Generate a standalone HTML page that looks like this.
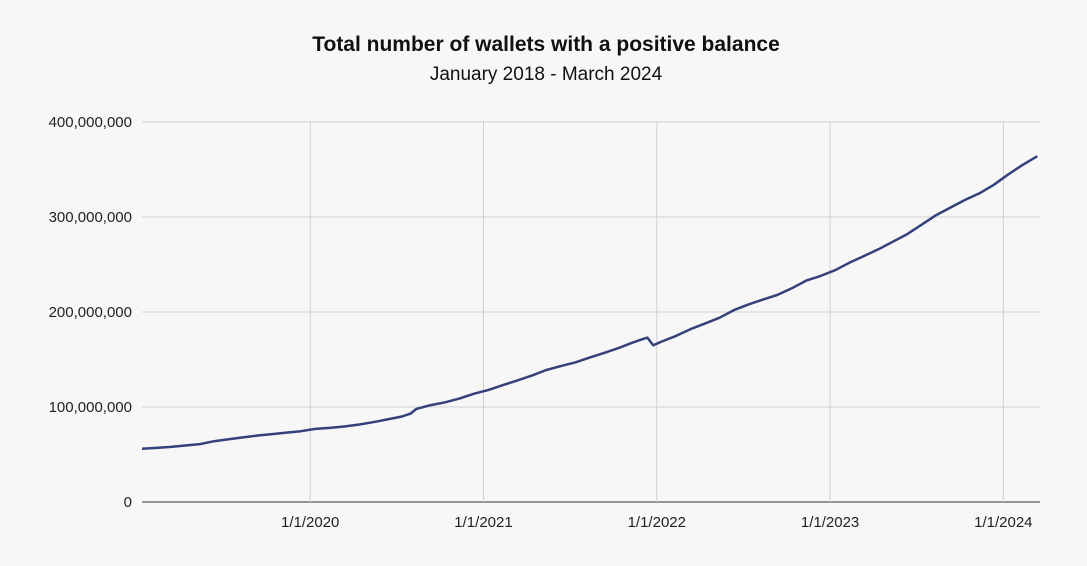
<!DOCTYPE html>
<html><head><meta charset="utf-8"><style>
html,body{margin:0;padding:0;background:#f7f7f7;}
body{width:1087px;height:561px;overflow:hidden;font-family:"Liberation Sans",Arial,sans-serif;}
</style></head><body>
<svg id="chart" width="1087" height="561" xmlns="http://www.w3.org/2000/svg">
<rect x="0" y="0" width="1087" height="561" fill="#f7f7f7"/>
<text x="546" y="51" text-anchor="middle" font-size="21" font-weight="bold" fill="#111">Total number of wallets with a positive balance</text>
<text x="546" y="80" text-anchor="middle" font-size="19" fill="#111">January 2018 - March 2024</text>
<g id="grid"></g><g id="axes"></g><g id="series"></g>
</svg>
<script>
const months=[0,1,2,3,4,5,6,7,8,9,10,11,12,13,14,15,16,17,18,18.6,19,20,21,22,23,24,25,26,27,28,29,30,31,32,33,34,35,35.4,36,37,38,39,40,41,42,43,44,45,46,47,48,49,50,51,52,53,54,55,56,57,58,59,60,61,62];
const values=[56,57,58,59.5,61,64,66,68,70,71.5,73,74.5,77,78,79.5,81.5,84,87,90,93,98,102,105,109,114,118,123,128,133,139,143,147,152,157,162,168,173,165,169,175,182,188,194,202,208,213,218,225,233,238,244,252,259,266,274,282,292,302,310,318,325,334,345,355,364];
const yTicks=[0,100,200,300,400];
const yTickLabels=["0","100,000,000","200,000,000","300,000,000","400,000,000"];
const xTickMonths=[11.65,23.65,35.65,47.65,59.65];
const xTickLabels=["1/1/2020","1/1/2021","1/1/2022","1/1/2023","1/1/2024"];

const NS="http://www.w3.org/2000/svg";
const X0=142,X1=1040,Y0=502,Y1=122;
const xs=m=>X0+m*14.44;
const ys=v=>Y0-(v/400)*(Y0-Y1);
function mk(tag,attrs,parent){const e=document.createElementNS(NS,tag);for(const k in attrs)e.setAttribute(k,attrs[k]);document.getElementById(parent).appendChild(e);return e;}
yTicks.forEach((t,i)=>{
  const l=mk('line',{x1:X0,x2:X1,y1:ys(t),y2:ys(t),stroke:t===0?'#333':'#d0d0d0','stroke-width':1},'grid');
  
  
  const tx=mk('text',{x:132,y:ys(t)+5,'text-anchor':'end','font-size':15,fill:'#222'},'axes');
  tx.textContent=yTickLabels[i];
  
  
});
xTickMonths.forEach((m,i)=>{
  const l=mk('line',{x1:xs(m),x2:xs(m),y1:Y1,y2:Y0,stroke:'#d0d0d0','stroke-width':1},'grid');
  
  
  const tx=mk('text',{x:xs(m),y:527,'text-anchor':'middle','font-size':15,fill:'#222'},'axes');
  tx.textContent=xTickLabels[i];
  
  
});
const d=months.map((m,i)=>(i?'L':'M')+xs(m).toFixed(1)+','+ys(values[i]).toFixed(1)).join(' ');
const p=mk('path',{d:d,fill:'none',stroke:'#34417a','stroke-width':2.5,'stroke-linejoin':'round'},'series');


</script>
</body></html>
